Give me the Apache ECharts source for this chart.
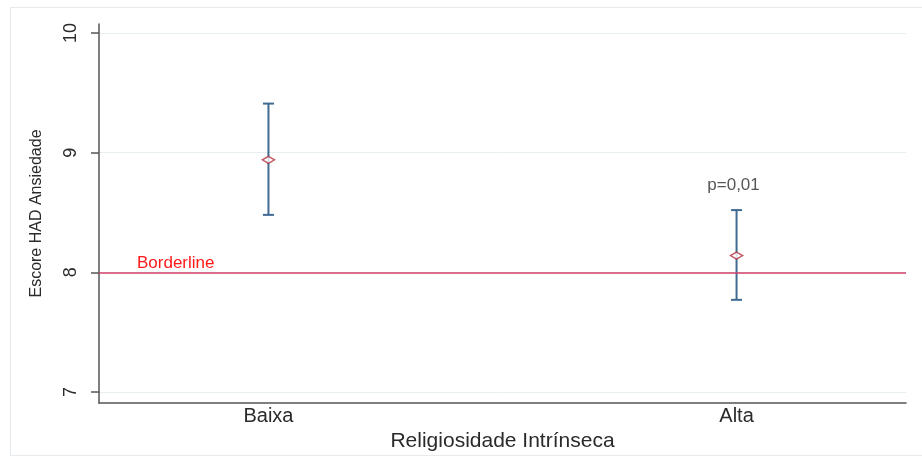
<!DOCTYPE html>
<html>
<head>
<meta charset="utf-8">
<script src="https://cdn.jsdelivr.net/npm/echarts@6/dist/echarts.min.js"></script>
<style>html,body{margin:0;padding:0;background:#fff}#c{width:922px;height:457px}</style>
</head>
<body>
<div id="c"></div>
<script>
var categories = ['Baixa', 'Alta'];
var xPositions = [1, 2];
var means = [8.94, 8.14];
var upperCI = [9.41, 8.52];
var lowerCI = [8.48, 7.77];
var borderline = 8;
var borderlineLabel = 'Borderline';
var pLabel = 'p=0,01';
var yTicks = [7, 8, 9, 10];
var xTitle = 'Religiosidade Intrínseca';
var yTitle = 'Escore HAD Ansiedade';

var FONT = '"Liberation Sans", Arial, sans-serif';
var chart = echarts.init(document.getElementById('c'), null, {renderer: 'canvas'});

var errData = xPositions.map(function (x, i) { return [x, lowerCI[i], upperCI[i]]; });
var meanData = xPositions.map(function (x, i) { return [x, means[i]]; });

var option = {
  backgroundColor: '#ffffff',
  animation: false,
  textStyle: {fontFamily: FONT},
  graphic: [{
    type: 'rect', shape: {x: 10.5, y: 7.5, width: 920, height: 448},
    style: {fill: 'none', stroke: '#e4eaed', lineWidth: 1}, z: -10
  }],
  grid: {left: 99, right: 16, top: 24, bottom: 54},
  xAxis: {
    type: 'value', min: 0.638, max: 2.362,
    name: xTitle, nameLocation: 'middle', nameGap: 23,
    nameTextStyle: {fontSize: 21, color: '#2a2a2a', fontFamily: FONT},
    axisLine: {show: true, onZero: false, lineStyle: {color: '#555', width: 1.5}},
    axisTick: {show: false},
    splitLine: {show: false},
    axisLabel: {
      customValues: xPositions, fontSize: 20, color: '#2a2a2a', margin: 3, fontFamily: FONT,
      formatter: function (v) { var i = xPositions.indexOf(v); return i >= 0 ? categories[i] : ''; }
    }
  },
  yAxis: {
    type: 'value', min: 6.908, max: 10.075,
    name: yTitle, nameLocation: 'middle', nameGap: 54, nameRotate: 90,
    nameTextStyle: {fontSize: 16, color: '#2a2a2a', fontFamily: FONT},
    axisLine: {show: true, lineStyle: {color: '#555', width: 1.5}},
    axisTick: {show: true, customValues: yTicks, length: 8, lineStyle: {color: '#555', width: 1.5}},
    axisLabel: {customValues: yTicks, rotate: 90, fontSize: 18, color: '#2a2a2a', margin: 19, fontFamily: FONT},
    splitLine: {show: true, lineStyle: {color: '#e6eef0', width: 1}}
  },
  series: [
    {
      type: 'custom',
      name: 'IC',
      data: errData,
      renderItem: function (params, api) {
        var x = api.value(0);
        var lo = api.coord([x, api.value(1)]);
        var hi = api.coord([x, api.value(2)]);
        var w = 5.5;
        var st = {stroke: '#3f6a92', lineWidth: 2};
        return {
          type: 'group',
          children: [
            {type: 'line', shape: {x1: lo[0], y1: lo[1], x2: hi[0], y2: hi[1]}, style: st},
            {type: 'line', shape: {x1: lo[0] - w, y1: lo[1], x2: lo[0] + w, y2: lo[1]}, style: st},
            {type: 'line', shape: {x1: hi[0] - w, y1: hi[1], x2: hi[0] + w, y2: hi[1]}, style: st}
          ]
        };
      },
      z: 3,
      markLine: {
        silent: true, symbol: 'none',
        lineStyle: {color: '#d2406a', width: 1.5, type: 'solid'},
        label: {show: true, position: 'insideStartTop', formatter: borderlineLabel,
          color: '#ff1a1a', fontSize: 17, fontFamily: FONT, distance: [38, 1]},
        data: [{yAxis: borderline}]
      }
    },
    {
      type: 'scatter',
      name: 'Média',
      data: meanData,
      symbol: 'diamond',
      symbolSize: [12, 7],
      itemStyle: {color: '#ffffff', borderColor: '#b0303c', borderWidth: 1.6},
      z: 4
    },
    {
      type: 'scatter',
      name: 'p',
      data: [[xPositions[1], upperCI[1]]],
      symbolSize: 0,
      silent: true,
      label: {show: true, position: 'top', distance: 16, offset: [-3, 0], formatter: pLabel,
        color: '#2a2a2a', fontSize: 17, fontFamily: FONT},
      z: 5
    }
  ]
};
chart.setOption(option);
</script>
</body>
</html>
